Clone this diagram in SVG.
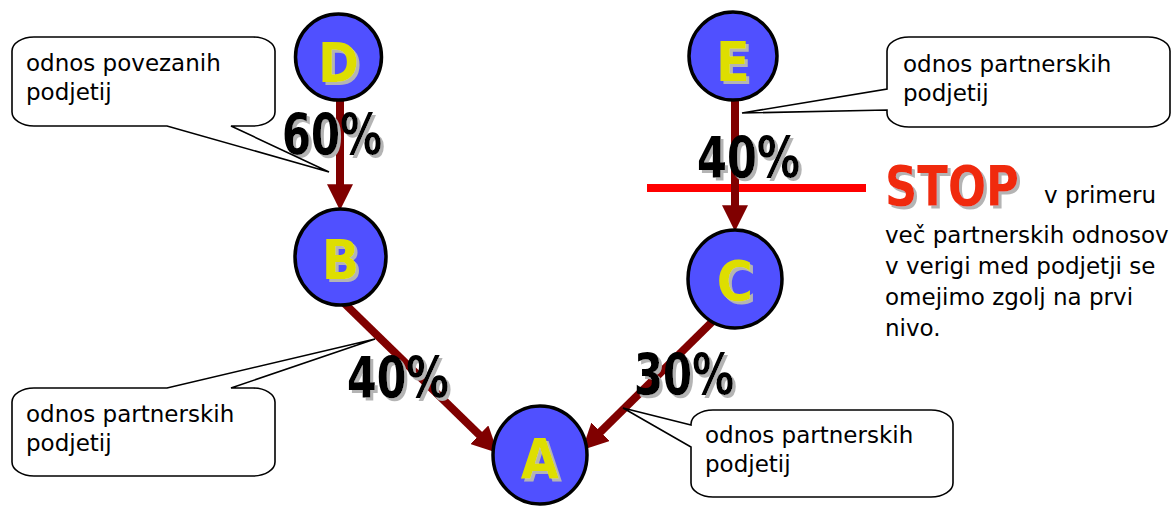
<svg xmlns="http://www.w3.org/2000/svg" width="1176" height="506" viewBox="0 0 1176 506">
<style>
.node{fill:#5050ff;stroke:#000;stroke-width:3.5}
.let{font-family:"DejaVu Sans Condensed","DejaVu Sans",sans-serif;font-weight:bold;font-size:55px;text-anchor:middle;fill:#dede00;filter:url(#ts)}
.pct{font-family:"DejaVu Sans Condensed","DejaVu Sans",sans-serif;font-weight:bold;font-size:57px;fill:#000;filter:url(#ts)}
.conn{stroke:#800000;stroke-width:8;fill:none;marker-end:url(#ah)}
.call{fill:#fff;stroke:#000;stroke-width:1.6}
.ct{font-family:"DejaVu Sans","Verdana",sans-serif;font-size:23px;fill:#000}
.stop{font-family:"DejaVu Sans Condensed","DejaVu Sans",sans-serif;font-weight:bold;font-size:56px;fill:#f02a10;filter:url(#ts)}
</style>
<defs>
<marker id="ah" markerUnits="userSpaceOnUse" markerWidth="26" markerHeight="26" viewBox="0 0 24 24" refX="8" refY="12" orient="auto">
<path d="M0,0 L24,12 L0,24 Z" fill="#800000"/>
</marker>
<filter id="ts" x="-10%" y="-10%" width="130%" height="130%">
<feFlood flood-color="#b4b4b4"/>
<feComposite in2="SourceAlpha" operator="in"/>
<feOffset dx="3" dy="3" result="s"/>
<feMerge><feMergeNode in="s"/><feMergeNode in="SourceGraphic"/></feMerge>
</filter>
</defs>
<rect width="1176" height="506" fill="#fff"/>
<line x1="647" y1="188" x2="866" y2="188" stroke="#ff0000" stroke-width="8"/>
<g id="connectors">
<path class="conn" d="M340,100 L340,193"/>
<path class="conn" d="M735,100 L735,214"/>
<path class="conn" d="M343,302 L485.5,440.8"/>
<path class="conn" d="M716,318 L594.4,437.8"/>
</g>
<g id="D"><ellipse class="node" cx="338.5" cy="57" rx="43" ry="43"/><text class="let" x="338.5" y="82">D</text></g>
<g id="E"><ellipse class="node" cx="733" cy="56" rx="44" ry="44"/><text class="let" x="733" y="81">E</text></g>
<g id="B"><ellipse class="node" cx="340.5" cy="257" rx="45.5" ry="48"/><text class="let" x="340.5" y="279">B</text></g>
<g id="C"><ellipse class="node" cx="735" cy="279" rx="47" ry="49"/><text class="let" x="735" y="300">C</text></g>
<g id="A"><ellipse class="node" cx="540" cy="455" rx="47" ry="49"/><text class="let" x="540" y="478">A</text></g>
<g id="labels">
<text class="pct" x="282" y="155" textLength="100" lengthAdjust="spacingAndGlyphs">60%</text>
<text class="pct" x="697" y="178" textLength="103" lengthAdjust="spacingAndGlyphs">40%</text>
<text class="pct" x="347" y="398" textLength="102" lengthAdjust="spacingAndGlyphs">40%</text>
<text class="pct" x="634" y="395" textLength="100" lengthAdjust="spacingAndGlyphs">30%</text>
</g>
<g id="callout-D">
<path class="call" d="M34,37 H253 A22,14 0 0 1 275,51 V112 A22,14 0 0 1 253,126 H231 L329,172 L167,126 H34 A22,14 0 0 1 12,112 V51 A22,14 0 0 1 34,37 Z"/>
<text class="ct" x="26" y="71">odnos povezanih</text>
<text class="ct" x="26" y="100">podjetij</text>
</g>
<g id="callout-E">
<path class="call" d="M909,37 H1148 A22,14 0 0 1 1170,51 V113 A22,14 0 0 1 1148,127 H909 A22,14 0 0 1 887,113 V110 L742,113 L887,89 V51 A22,14 0 0 1 909,37 Z"/>
<text class="ct" x="903" y="72">odnos partnerskih</text>
<text class="ct" x="903" y="101">podjetij</text>
</g>
<g id="callout-B">
<path class="call" d="M34,388 H167 L375,339 L231,388 H253 A22,14 0 0 1 275,402 V462 A22,14 0 0 1 253,476 H34 A22,14 0 0 1 12,462 V402 A22,14 0 0 1 34,388 Z"/>
<text class="ct" x="26" y="422">odnos partnerskih</text>
<text class="ct" x="26" y="451">podjetij</text>
</g>
<g id="callout-C">
<path class="call" d="M713,410 H931 A22,14 0 0 1 953,424 V483 A22,14 0 0 1 931,497 H713 A22,14 0 0 1 691,483 V447 L623,408 L691,425 V424 A22,14 0 0 1 713,410 Z"/>
<text class="ct" x="705" y="443">odnos partnerskih</text>
<text class="ct" x="705" y="472">podjetij</text>
</g>
<g id="stop-note">
<text class="stop" x="885" y="205" textLength="134" lengthAdjust="spacingAndGlyphs">STOP</text>
<text class="ct" x="1044" y="203">v primeru</text>
<text class="ct" x="885" y="243">več partnerskih odnosov</text>
<text class="ct" x="885" y="274">v verigi med podjetji se</text>
<text class="ct" x="885" y="305">omejimo zgolj na prvi</text>
<text class="ct" x="885" y="336">nivo.</text>
</g>
</svg>
